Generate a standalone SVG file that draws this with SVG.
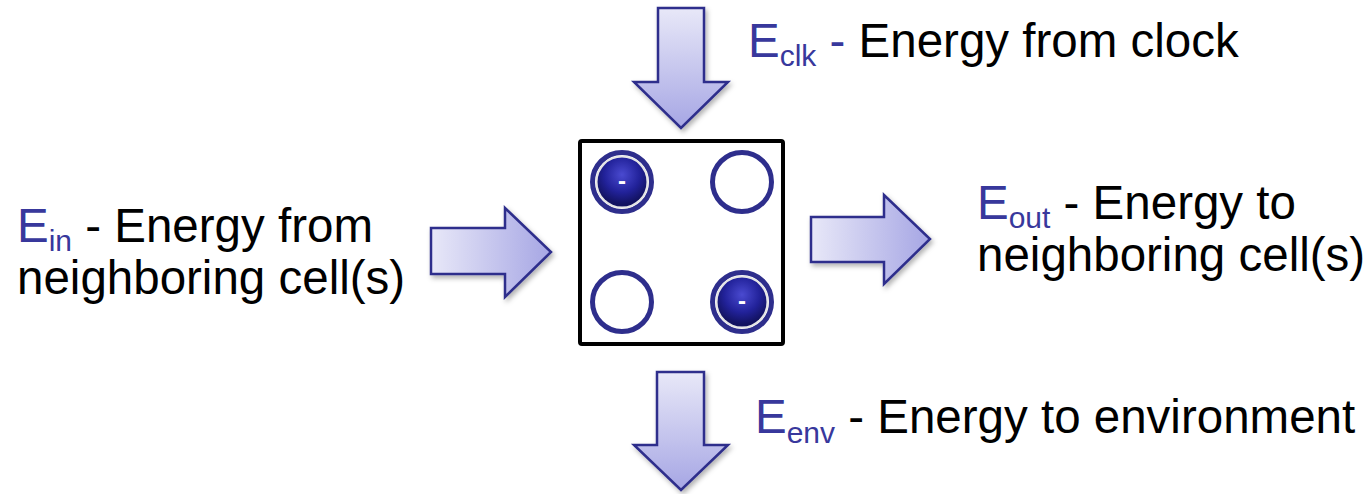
<svg xmlns="http://www.w3.org/2000/svg" width="1370" height="494" viewBox="0 0 1370 494">
<style>
.t{font-family:"Liberation Sans",Arial,sans-serif;font-size:47.5px;fill:#000}
.b{fill:#38389c}
.s{font-size:30px}
.arr{stroke:#2e2e8c;stroke-width:2.5;stroke-linejoin:miter}
.ring{fill:none;stroke:#2e2e8c;stroke-width:5}
.minus{font-family:"Liberation Sans",Arial,sans-serif;font-size:24px;fill:#fff;font-weight:bold;text-anchor:middle}
</style>
<defs>
<linearGradient id="gv" x1="0" y1="0" x2="0" y2="1"><stop offset="0" stop-color="#e8e8f8"/><stop offset="1" stop-color="#a6a6e4"/></linearGradient>
<linearGradient id="gh" x1="0" y1="0" x2="1" y2="0"><stop offset="0" stop-color="#e8e8f8"/><stop offset="1" stop-color="#a6a6e4"/></linearGradient>
<radialGradient id="ball" cx="0.5" cy="0.35" r="0.6"><stop offset="0" stop-color="#4a4ad0"/><stop offset="0.6" stop-color="#22229a"/><stop offset="1" stop-color="#121260"/></radialGradient>
<filter id="sh" x="-20%" y="-20%" width="150%" height="150%"><feDropShadow dx="2" dy="3" stdDeviation="2.5" flood-color="#000" flood-opacity="0.3"/></filter>
</defs>
<g id="connectors">
<polygon id="arrow-clk" class="arr" fill="url(#gv)" filter="url(#sh)" points="658,8 704,8 704,82 728,82 681,128 634,82 658,82"/>
<polygon id="arrow-env" class="arr" fill="url(#gv)" filter="url(#sh)" points="657,372 704,372 704,445 728,445 681,490 634,445 657,445"/>
<polygon id="arrow-in" class="arr" fill="url(#gh)" filter="url(#sh)" points="431,228 505,228 505,208 551,252 505,297 505,274 431,274"/>
<polygon id="arrow-out" class="arr" fill="url(#gh)" filter="url(#sh)" points="811,217 884,217 884,195 930,239 884,284 884,262 811,262"/>
</g>
<g id="cell">
<rect x="580" y="141" width="203" height="203" rx="2" fill="#fff" stroke="#000" stroke-width="4"/>
<g id="dot-tl">
<circle class="ring" cx="622" cy="182" r="29.5"/>
<circle cx="622" cy="182" r="25.5" fill="none" stroke="#e6e6e6" stroke-width="2"/>
<circle cx="622" cy="182" r="24.5" fill="url(#ball)"/>
<text class="minus" x="622" y="189">-</text>
</g>
<g id="dot-tr"><circle class="ring" cx="742" cy="182" r="29.5"/></g>
<g id="dot-bl"><circle class="ring" cx="622" cy="302" r="29.5"/></g>
<g id="dot-br">
<circle class="ring" cx="742" cy="302" r="29.5"/>
<circle cx="742" cy="302" r="25.5" fill="none" stroke="#e6e6e6" stroke-width="2"/>
<circle cx="742" cy="302" r="24.5" fill="url(#ball)"/>
<text class="minus" x="742" y="309">-</text>
</g>
</g>
<g id="label-clk">
<text class="t" x="748" y="57"><tspan class="b">E</tspan><tspan class="b s" dy="9">clk</tspan><tspan class="b" dy="-9"> -</tspan> Energy from clock</text>
</g>
<g id="label-in">
<text class="t" x="17" y="242"><tspan class="b">E</tspan><tspan class="b s" dy="9">in</tspan><tspan dy="-9"> - Energy from</tspan></text>
<text class="t" x="17" y="294">neighboring cell(s)</text>
</g>
<g id="label-out">
<text class="t" x="977" y="219"><tspan class="b">E</tspan><tspan class="b s" dy="9">out</tspan><tspan dy="-9"> - Energy to</tspan></text>
<text class="t" x="977" y="271">neighboring cell(s)</text>
</g>
<g id="label-env">
<text class="t" x="755" y="433"><tspan class="b">E</tspan><tspan class="b s" dy="10">env</tspan><tspan dy="-10"> - Energy to environment</tspan></text>
</g>
</svg>
